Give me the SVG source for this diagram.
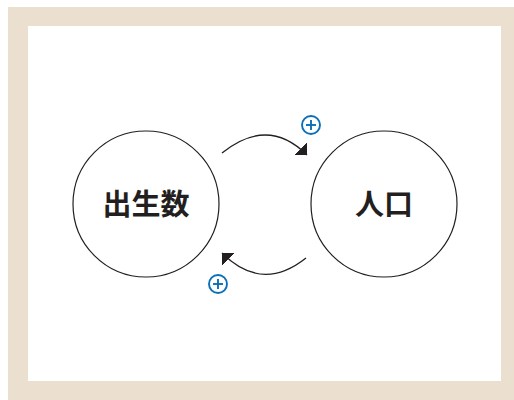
<svg xmlns="http://www.w3.org/2000/svg" width="514" height="400" viewBox="0 0 514 400">
<defs>
<style>
.node{fill:#fff;stroke:#231f20;stroke-width:1.2}
.lbl{font-family:"Noto Sans CJK JP","Noto Sans CJK SC",sans-serif;font-weight:bold;font-size:29px;fill:#231f20;text-anchor:middle}
.conn{fill:none;stroke:#231f20;stroke-width:1.3}
.plus{fill:#fff;stroke:#0a6fb8;stroke-width:1.9}
.pl{stroke:#0a6fb8;stroke-width:1.9}
</style>
<marker id="ah" markerWidth="12" markerHeight="20" refX="9" refY="10" orient="auto" markerUnits="userSpaceOnUse">
<path d="M0,1 L9,10 L0,19 Z" fill="#231f20"/>
</marker>
</defs>
<rect x="8" y="7" width="506" height="393" fill="#ebdfcf"/>
<rect x="28" y="26" width="473" height="355" fill="#fff"/>
<g id="node-births">
<circle class="node" cx="146" cy="204" r="73"/>
<text class="lbl" x="146" y="215">出生数</text>
</g>
<g id="node-population">
<circle class="node" cx="384" cy="204" r="73"/>
<text class="lbl" x="384" y="215">人口</text>
</g>
<g id="connectors">
<path class="conn" d="M222,153 Q268,116 307,155" marker-end="url(#ah)"/>
<path class="conn" d="M306,258 Q262,293 222,253" marker-end="url(#ah)"/>
</g>
<g id="sign-top">
<circle class="plus" cx="311" cy="125" r="9"/>
<line class="pl" x1="306" y1="125" x2="316" y2="125"/>
<line class="pl" x1="311" y1="120" x2="311" y2="130"/>
</g>
<g id="sign-bottom">
<circle class="plus" cx="218" cy="284" r="9"/>
<line class="pl" x1="213" y1="284" x2="223" y2="284"/>
<line class="pl" x1="218" y1="279" x2="218" y2="289"/>
</g>
</svg>
